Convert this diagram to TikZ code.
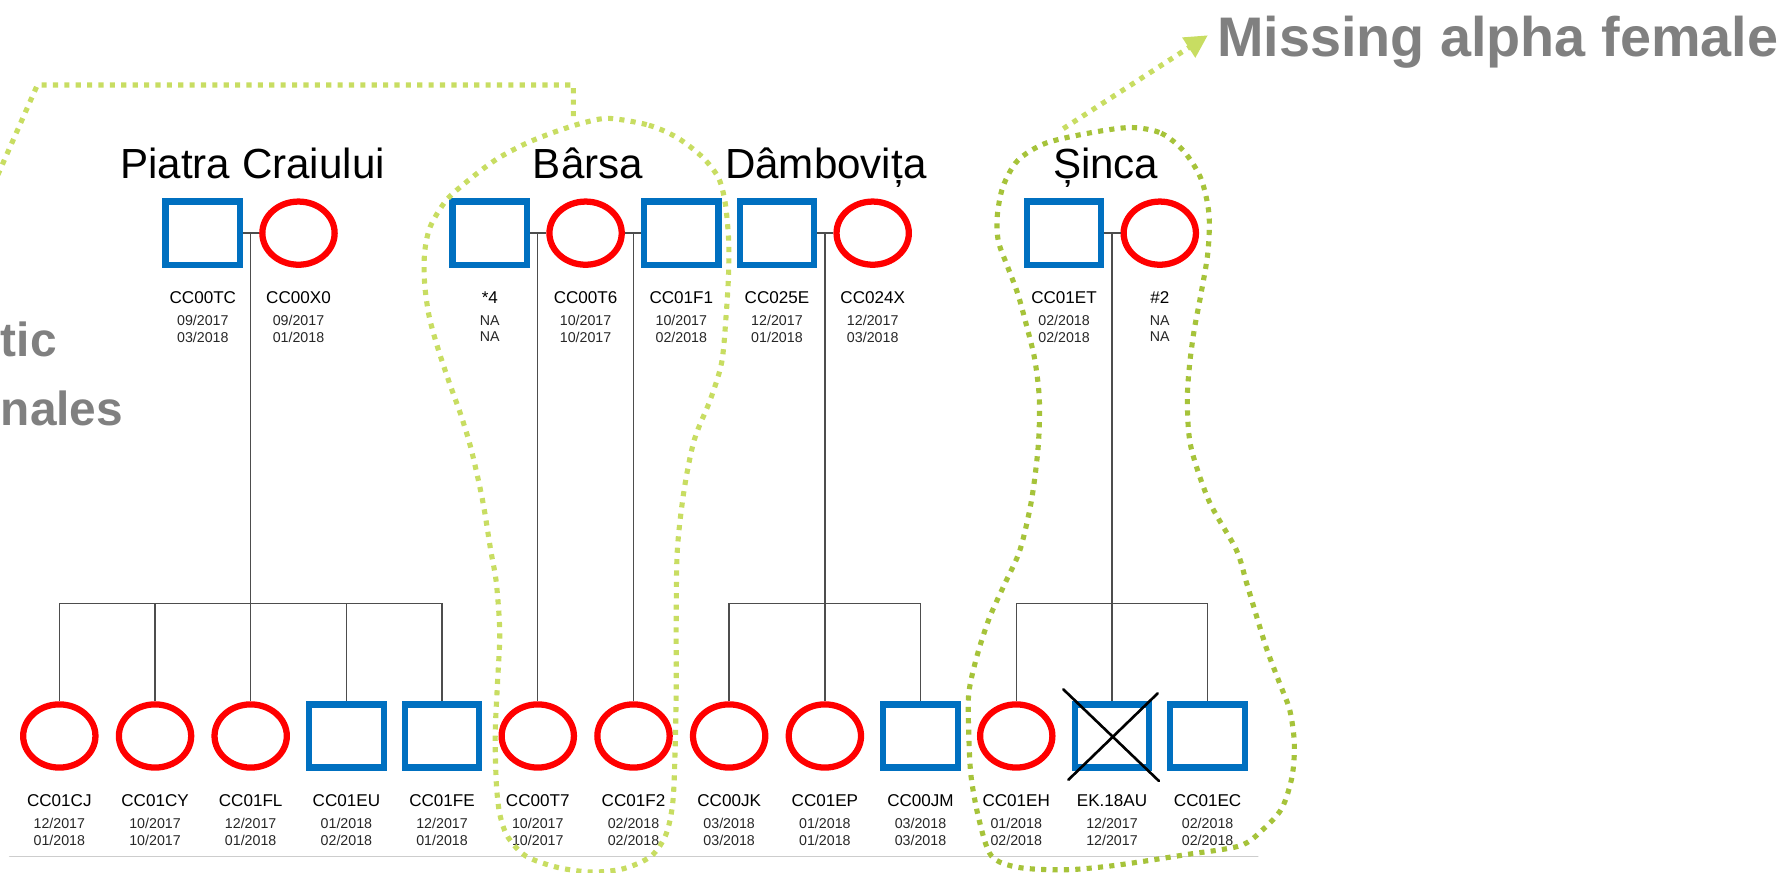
\documentclass[tikz,border=0pt]{standalone}
\usepackage{fontspec}
\setmainfont{Liberation Sans}
\definecolor{maleBlue}{RGB}{0,112,192}
\definecolor{femaleRed}{RGB}{255,0,0}
\definecolor{limeLight}{RGB}{200,221,98}
\definecolor{limeDark}{RGB}{166,195,58}
\definecolor{noteGray}{RGB}{128,128,128}
\definecolor{kinGray}{RGB}{77,77,77}
\definecolor{ruleGray}{RGB}{205,205,205}
\usepackage{tikz}
\usetikzlibrary{arrows.meta, shapes.geometric}

\begin{document}
\begin{tikzpicture}[x=1pt, y=-1pt, style={line cap=round},
  male/.style={rectangle, draw=maleBlue, line width=5.5pt, line cap=butt, minimum width=65.5pt, minimum height=55.5pt, inner sep=0pt},
  female/.style={ellipse, draw=femaleRed, line width=5.5pt, minimum width=63.5pt, minimum height=55.5pt, inner sep=0pt},
  kin/.style={kinGray, line width=1.2pt, line cap=butt},
  idlab/.style={anchor=base, inner sep=0pt, font=\fontsize{15}{18}\selectfont},
  datelab/.style={anchor=north, inner sep=0pt, align=center, text=black!85, font=\fontsize{12.5}{14.6}\selectfont},
  pack/.style={anchor=base, inner sep=0pt, font=\fontsize{37}{44}\selectfont},
  trail/.style={line width=4.5pt, line cap=butt, dash pattern=on 4.5pt off 5.5pt},
  note/.style={inner sep=0pt, text=noteGray}]

  \useasboundingbox (0,0) rectangle (1568,766);
  \clip (0,0) rectangle (1568,766);

  % pack names
  \node[pack] (piatra) at (221.9,156.6) {Piatra Craiului};
  \node[pack] (barsa) at (516.5,156.6) {Bârsa};
  \node[pack] (dambo) at (725.4,156.6) {Dâmbovița};
  \node[pack] (sinca) at (971.3,156.6) {Șinca};

  % parents
  \node[male] (tc) at (178.2,204.8) {};
  \node[female] (x0) at (262.2,204.8) {};
  \node[male] (s4) at (430.3,204.8) {};
  \node[female] (t6) at (514.4,204.8) {};
  \node[male] (f1) at (598.5,204.8) {};
  \node[male] (e25) at (682.5,204.8) {};
  \node[female] (x24) at (766.6,204.8) {};
  \node[male] (et) at (934.7,204.8) {};
  \node[female] (n2) at (1018.8,204.8) {};

  \node[idlab] at (178.2,266.7) {CC00TC};
  \node[datelab] at (178.2,276.7) {09/2017\\03/2018};
  \node[idlab] at (262.2,266.7) {CC00X0};
  \node[datelab] at (262.2,276.7) {09/2017\\01/2018};
  \node[idlab] at (430.3,266.7) {*4};
  \node[datelab] at (430.3,276.7) {NA\\NA};
  \node[idlab] at (514.4,266.7) {CC00T6};
  \node[datelab] at (514.4,276.7) {10/2017\\10/2017};
  \node[idlab] at (598.5,266.7) {CC01F1};
  \node[datelab] at (598.5,276.7) {10/2017\\02/2018};
  \node[idlab] at (682.5,266.7) {CC025E};
  \node[datelab] at (682.5,276.7) {12/2017\\01/2018};
  \node[idlab] at (766.6,266.7) {CC024X};
  \node[datelab] at (766.6,276.7) {12/2017\\03/2018};
  \node[idlab] at (934.7,266.7) {CC01ET};
  \node[datelab] at (934.7,276.7) {02/2018\\02/2018};
  \node[idlab] at (1018.8,266.7) {\#2};
  \node[datelab] at (1018.8,276.7) {NA\\NA};

  % offspring
  \node[female] (cj) at (52.1,646.5) {};
  \node[female] (cy) at (136.2,646.5) {};
  \node[female] (fl) at (220.2,646.5) {};
  \node[male] (eu) at (304.3,646.5) {};
  \node[male] (fe) at (388.3,646.5) {};
  \node[female] (t7) at (472.4,646.5) {};
  \node[female] (f2) at (556.5,646.5) {};
  \node[female] (jk) at (640.5,646.5) {};
  \node[female] (ep) at (724.6,646.5) {};
  \node[male] (jm) at (808.6,646.5) {};
  \node[female] (eh) at (892.7,646.5) {};
  \node[male] (ek) at (976.8,646.5) {};
  \node[male] (ec) at (1060.8,646.5) {};

  \node[idlab] at (52.1,708.7) {CC01CJ};
  \node[datelab] at (52.1,718.6) {12/2017\\01/2018};
  \node[idlab] at (136.2,708.7) {CC01CY};
  \node[datelab] at (136.2,718.6) {10/2017\\10/2017};
  \node[idlab] at (220.2,708.7) {CC01FL};
  \node[datelab] at (220.2,718.6) {12/2017\\01/2018};
  \node[idlab] at (304.3,708.7) {CC01EU};
  \node[datelab] at (304.3,718.6) {01/2018\\02/2018};
  \node[idlab] at (388.3,708.7) {CC01FE};
  \node[datelab] at (388.3,718.6) {12/2017\\01/2018};
  \node[idlab] at (472.4,708.7) {CC00T7};
  \node[datelab] at (472.4,718.6) {10/2017\\10/2017};
  \node[idlab] at (556.5,708.7) {CC01F2};
  \node[datelab] at (556.5,718.6) {02/2018\\02/2018};
  \node[idlab] at (640.5,708.7) {CC00JK};
  \node[datelab] at (640.5,718.6) {03/2018\\03/2018};
  \node[idlab] at (724.6,708.7) {CC01EP};
  \node[datelab] at (724.6,718.6) {01/2018\\01/2018};
  \node[idlab] at (808.6,708.7) {CC00JM};
  \node[datelab] at (808.6,718.6) {03/2018\\03/2018};
  \node[idlab] at (892.7,708.7) {CC01EH};
  \node[datelab] at (892.7,718.6) {01/2018\\02/2018};
  \node[idlab] at (976.8,708.7) {EK.18AU};
  \node[datelab] at (976.8,718.6) {12/2017\\12/2017};
  \node[idlab] at (1060.8,708.7) {CC01EC};
  \node[datelab] at (1060.8,718.6) {02/2018\\02/2018};

  % dead wolf
  \draw[line width=2.3pt] (ek.center) ++(-42.8,-41) -- ++(84,80.5);
  \draw[line width=2.3pt] (ek.center) ++(40.2,-37.5) -- ++(-78.5,76);

  % kinship lines
  \coordinate (pm) at (220.2,204.8);
  \coordinate (pbar) at (220.2,530);
  \draw[kin] (tc) -- (x0);
  \draw[kin] (pm) -- (fl.north);
  \draw[kin] (cj.north) |- (pbar) -| (fe.north);
  \draw[kin] (cy.north) -- (cy.north |- pbar);
  \draw[kin] (eu.north) -- (eu.north |- pbar);

  \coordinate (bm1) at (472.4,204.8);
  \coordinate (bm2) at (556.5,204.8);
  \draw[kin] (s4) -- (t6);
  \draw[kin] (t6) -- (f1);
  \draw[kin] (bm1) -- (t7.north);
  \draw[kin] (bm2) -- (f2.north);

  \coordinate (dm) at (724.6,204.8);
  \coordinate (dbar) at (724.6,530);
  \draw[kin] (e25) -- (x24);
  \draw[kin] (dm) -- (ep.north);
  \draw[kin] (jk.north) |- (dbar) -| (jm.north);

  \coordinate (sm) at (976.8,204.8);
  \coordinate (sbar) at (976.8,530);
  \draw[kin] (et) -- (n2);
  \draw[kin] (sm) -- (ek.north);
  \draw[kin] (eh.north) |- (sbar) -| (ec.north);

  \draw[ruleGray, line width=1pt] (8.4,752) -- (1105,752);

  % notes
  \node[note, anchor=base west, font=\fontsize{49}{58}\selectfont\bfseries] (missing) at (1069,50) {Missing alpha female};
  \node[note, anchor=base west, font=\fontsize{42}{50}\selectfont\bfseries] (ticnote) at (0.5,313) {tic};
  \node[note, anchor=base west, font=\fontsize{42}{50}\selectfont\bfseries] (nalesnote) at (0.5,374) {nales};

  % dotted trails
  \draw[trail, limeLight] (-10,172) -- (32.8,74.7) -- (503.7,74.7) -- (503.7,104);
  \draw[trail, limeLight] plot[smooth cycle] coordinates {(535,104) (570,110) (595,121) (617,138) (631,156) (637,178) (640,210) (640,240) (638,275) (634,318) (624,351) (610,386) (601,430) (595,483) (594,545) (594,605) (593,660) (591,705) (585,733) (572,752) (548,763) (520,766) (490,762) (462,752) (446,735) (439,715) (436,688) (435,645) (437,600) (439,556) (436,512) (431,483) (424,440) (414,395) (405,365) (395,337) (385,307) (377,278) (373,249) (373,222) (378,199) (392,176) (412,158) (436,140) (462,126) (487,116) (512,108)};
  \draw[trail, limeDark] plot[smooth cycle] coordinates {(993,112) (1020,117) (1040,133) (1055,157) (1062,188) (1061,222) (1055,258) (1049,290) (1045,320) (1043,352) (1046,392) (1062,440) (1086,483) (1095,512) (1104,542) (1113,571) (1124,600) (1133,624) (1137,653) (1135,682) (1126,710) (1109,729) (1089,743) (1040,751) (981,760) (937,764) (895,762) (871,752) (860,720) (853,682) (851,644) (851,609) (858,577) (869,543) (883,512) (896,483) (906,440) (912,392) (913,351) (909,316) (902,287) (894,258) (885,234) (877,212) (876,190) (881,164) (894,141) (918,126) (956,117)};

  \coordinate (sincatop) at (934,113);
  \coordinate (alphatip) at (1061,31);
  \draw[trail, limeLight, -{Triangle[length=20pt, width=20pt]}] (sincatop) -- (alphatip);

\end{tikzpicture}
\end{document}
